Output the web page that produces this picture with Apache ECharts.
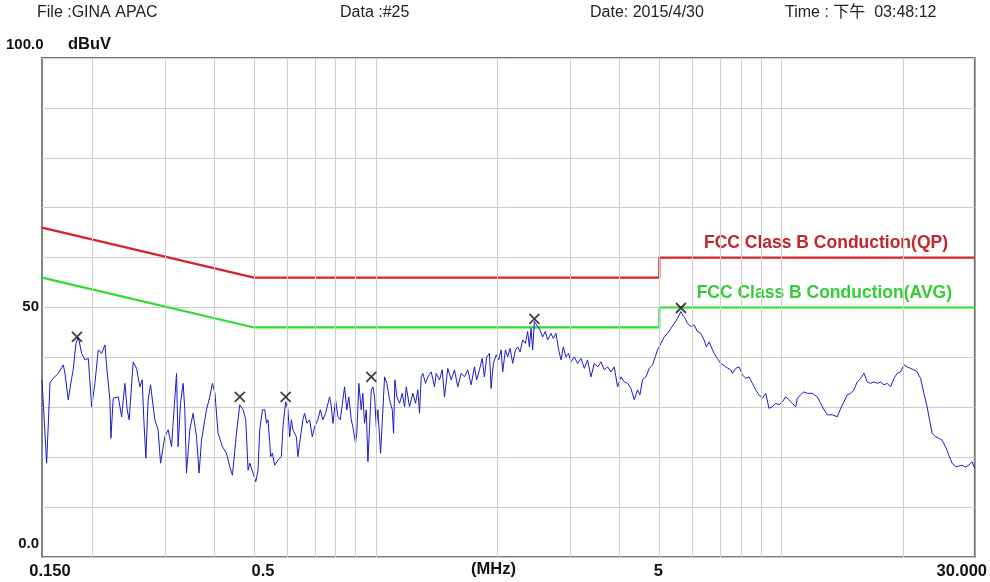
<!DOCTYPE html>
<html>
<head>
<meta charset="utf-8">
<script src="https://cdn.jsdelivr.net/npm/echarts@6/dist/echarts.min.js"></script>
<style>
html,body{margin:0;padding:0;background:#fff;}
#chart{width:990px;height:582px;}
</style>
</head>
<body>
<div id="chart"></div>
<script>
// ---------- data ----------
const traceFreq = [
0.1500,0.1540,0.1570,0.1599,0.1645,0.1693,0.1709,0.1741,0.1775,0.1791,0.1819,0.1843,0.1879,0.1915,0.1951,0.1989,
0.2026,0.2065,0.2105,0.2145,0.2166,0.2206,0.2219,0.2248,0.2313,0.2358,0.2402,0.2434,0.2461,0.2518,0.2567,0.2615,
0.2650,0.2675,0.2706,0.2741,0.2779,0.2847,0.2901,0.2941,0.3014,0.3071,0.3131,0.3159,0.3221,0.3250,0.3294,0.3344,
0.3376,0.3408,0.3473,0.3539,0.3608,0.3661,0.3712,0.3782,0.3818,0.3890,0.3950,0.4006,0.4078,0.4181,0.4277,0.4358,
0.4425,0.4527,0.4613,0.4700,0.4773,0.4836,
0.4883,0.4975,0.5051,0.5117,0.5167,0.5247,0.5316,0.5368,0.5416,0.5467,0.5498,0.5551,0.5624,0.5731,0.5842,0.5896,
0.5986,0.6065,0.6124,0.6183,0.6239,0.6361,0.6419,0.6480,0.6602,0.6667,0.6754,0.6859,0.6964,0.7056,0.7189,0.7287,
0.7396,0.7512,0.7684,0.7759,0.7830,0.7950,0.8054,0.8165,0.8366,0.8474,0.8571,0.8689,0.8768,0.8904,0.8969,0.9072,
0.9196,0.9280,0.9369,0.9464,0.9551,0.9643,0.9737,0.9826,0.9921,1.0017,1.0108,1.0264,1.0399,1.0500,1.0638,1.0802,
1.0969,1.1050,1.1132,1.1259,1.1433,1.1609,1.1762,1.1876,1.2100,1.2328,1.2519,1.2683,1.2806,1.2930,1.3048,1.3250,
1.3423,1.3685,1.3943,1.4079,1.4344,1.4566,1.4757,1.5034,1.5328,1.5618,1.5913,1.6224,1.6529,1.6842,1.7170,
1.7494,1.7720,1.800,1.828,1.851,1.876,1.905,1.923,1.948,1.979,2.008,2.035,2.054,2.086,2.113,2.142,2.174,2.208,
2.237,2.267,2.301,2.336,2.367,2.390,2.413,2.435,2.459,2.482,2.505,2.539,2.577,2.617,2.651,2.703,2.738,2.780,
2.822,2.861,2.898,2.943,2.987,3.027,3.085,3.143,3.204,3.265,3.326,3.391,3.455,3.521,3.589,3.657,3.726,3.799,
3.870,3.944,4.020,4.096,4.174,4.255,4.336,4.418,4.479,4.545,4.634,4.721,4.811,4.885,4.949,5.046,5.141,5.238,
5.340,5.441,5.544,5.652,5.703,5.791,5.868,5.980,6.092,6.208,6.329,6.448,6.533,6.634,
6.824,6.952,7.088,7.292,7.501,7.571,7.719,7.865,8.014,8.170,8.324,8.482,8.645,8.808,8.975,9.149,9.322,9.499,
9.687,9.870,10.06,10.25,10.45,10.64,10.85,10.95,11.16,11.37,11.59,11.92,12.27,12.50,12.74,12.98,13.36,13.74,
14.01,14.27,14.54,14.82,15.10,15.39,15.69,15.99,16.29,16.60,16.92,17.24,17.57,17.91,18.24,18.60,18.95,19.31,
19.68,20.06,20.44,20.83,21.23,21.63,22.05,22.47,22.89,23.20,23.55,24.00,24.46,24.92,25.41,25.89,26.38,26.89,
27.40,27.92,28.46,29.00,29.54,30.00
];
const traceLevel = [
35.5,18.8,34.9,35.8,36.8,38.5,36.8,31.5,35.8,37.5,42.8,44.1,40.8,39.5,39.8,30.1,
34.8,41.5,40.8,42.5,38.1,31.5,23.8,31.8,32.1,28.1,34.8,29.5,27.5,39.1,37.8,34.1,
35.5,27.5,19.8,31.5,34.5,27.5,25.5,18.8,24.1,25.5,22.1,26.8,36.8,22.1,30.8,34.8,
29.5,16.8,25.5,28.8,24.1,16.8,23.4,27.5,29.5,32.1,34.8,32.8,24.8,22.1,20.8,18.1,
16.4,24.8,30.5,29.5,27.5,17.4,
18.8,16.8,15.1,17.4,25.5,29.5,29.5,26.8,27.5,23.1,20.1,20.8,18.4,19.4,20.1,26.1,
31.1,29.5,24.1,27.5,25.5,24.1,20.1,22.8,27.5,28.8,26.8,27.5,24.1,26.1,27.5,29.5,
27.5,28.8,32.1,30.1,26.8,31.5,28.1,27.5,34.1,29.5,32.1,27.5,26.1,22.8,24.8,34.8,
29.5,32.8,26.8,29.5,19.1,26.1,33.5,34.1,32.1,26.1,29.5,20.8,29.5,36.1,34.8,31.5,
29.5,24.8,35.5,32.1,30.8,32.8,30.1,34.1,30.1,32.8,30.8,33.5,28.8,36.1,36.8,34.8,
36.1,37.1,34.1,36.8,35.5,37.5,32.1,37.8,35.5,37.5,34.1,36.8,36.1,37.5,34.5,
38.1,35.5,37.5,39.8,36.1,40.1,40.8,33.8,38.8,40.5,39.5,41.5,37.1,41.5,40.1,41.8,38.8,41.5,
42.1,41.1,43.5,42.8,45.2,42.1,45.8,41.5,47.2,47.5,46.2,45.5,44.1,45.2,43.5,44.8,43.8,44.8,
41.5,39.5,42.1,40.1,40.8,39.1,40.1,38.8,39.8,37.8,39.5,36.1,38.8,38.1,39.1,37.5,38.1,37.1,
38.1,34.1,36.1,35.1,34.8,33.8,31.5,33.5,32.5,35.5,36.1,37.8,38.5,40.1,41.5,42.8,44.1,44.8,
45.8,46.8,47.8,49.2,48.5,47.8,46.8,46.2,46.5,45.2,44.8,43.5,42.1,43.1,
40.8,39.8,38.8,38.1,37.5,36.8,37.8,38.1,36.5,35.8,36.1,34.8,33.5,32.5,31.8,32.8,29.8,30.1,
30.8,30.5,31.1,32.1,31.5,30.8,30.1,31.8,32.5,33.1,32.8,32.8,32.1,30.8,29.5,28.5,28.5,28.1,
29.8,31.1,32.5,32.8,33.5,35.1,35.8,36.8,35.1,34.8,35.1,34.8,35.1,34.5,34.8,34.1,35.8,36.8,
37.1,38.5,38.1,37.8,37.5,37.1,35.8,32.8,30.1,27.5,24.8,24.1,23.8,23.4,22.1,20.4,18.8,18.1,
18.2,18.4,18.0,18.4,19.1,17.8
];
const markerFreq  = [0.1829, 0.4613, 0.5986, 0.9737, 2.459, 5.652];
const markerLevel = [44.1, 32.1, 32.1, 36.1, 47.7, 49.9];

const qpFreq   = [0.15, 0.5, 5, 5, 30];
const qpLevel  = [66, 56, 56, 60, 60];
const avgFreq  = [0.15, 0.5, 5, 5, 30];
const avgLevel = [56, 46, 46, 50, 50];

const gridFreqs = [0.2,0.3,0.4,0.5,0.6,0.7,0.8,0.9,1,2,3,4,5,6,7,8,9,10,20];
const xTickFreqs  = [0.15, 0.5, 5, 30];
const xTickLabels = ['0.150', '0.5', '5', '30.000'];
const xTickStyles = ['a', 'b', 'c', 'd'];
const yTickValues = [0, 50];
const yTickLabels = ['0.0', '50'];
const yTickStyles = ['z', 'f'];
const yTopLabel = '100.0';
const yUnit = 'dBuV';
const xUnit = '(MHz)';
const qpName  = 'FCC Class B Conduction(QP)';
const avgName = 'FCC Class B Conduction(AVG)';
const headerFile = 'File :GINA APAC';
const headerData = 'Data :#25';
const headerDate = 'Date: 2015/4/30';
const headerTime = 'Time : 下午  03:48:12';

// ---------- chart ----------
const lg = v => Math.log10(v);
const pairs = (fs, ls) => fs.map((f, i) => [lg(f), ls[i]]);
const FONT = '"Liberation Sans", Arial, "Noto Sans CJK TC", sans-serif';
const xl = {fontFamily: FONT, fontWeight: 'bold', fontSize: 16.5, color: '#111'};
const yl = {fontFamily: FONT, fontWeight: 'bold', fontSize: 15, color: '#111'};

const chart = echarts.init(document.getElementById('chart'), null, {renderer: 'canvas'});
const option = {
  animation: false,
  backgroundColor: '#ffffff',
  grid: {left: 42, right: 14, top: 58, bottom: 25, show: true, borderColor: '#767676', borderWidth: 1.8, backgroundColor: '#ffffff'},
  xAxis: {
    type: 'value', min: lg(0.15), max: lg(30),
    axisLine: {show: false}, axisTick: {show: false}, splitLine: {show: false},
    axisLabel: {
      customValues: xTickFreqs.map(lg),
      margin: 6,
      formatter: v => {
        const i = xTickFreqs.findIndex(f => Math.abs(lg(f) - v) < 1e-6);
        return i < 0 ? '' : '{' + xTickStyles[i] + '|' + xTickLabels[i] + '}';
      },
      rich: {
        a: Object.assign({padding: [0, 0, 0, 16]}, xl),
        b: Object.assign({padding: [0, 0, 0, 18]}, xl),
        c: Object.assign({padding: [0, 2, 0, 0]}, xl),
        d: Object.assign({padding: [0, 26, 0, 0]}, xl)
      }
    }
  },
  yAxis: {
    type: 'value', min: 0, max: 100, interval: 10,
    axisLine: {show: false}, axisTick: {show: false},
    splitLine: {show: true, lineStyle: {color: '#cdcdcd', width: 1}},
    axisLabel: {
      customValues: yTickValues,
      margin: 3,
      formatter: v => {
        const i = yTickValues.indexOf(v);
        return i < 0 ? '' : '{' + yTickStyles[i] + '|' + yTickLabels[i] + '}';
      },
      rich: {
        z: Object.assign({padding: [0, 0, 26, 0]}, yl),
        f: Object.assign({padding: [0, 0, 2, 0]}, yl)
      }
    }
  },
  series: [
    {
      type: 'line', name: 'grid', data: [], silent: true, z: 1,
      markLine: {
        silent: true, symbol: ['none', 'none'], animation: false,
        label: {show: false},
        lineStyle: {color: '#cdcdcd', type: 'solid', width: 1},
        data: gridFreqs.map(f => ({xAxis: lg(f)}))
      }
    },
    {
      type: 'line', name: qpName, data: pairs(qpFreq, qpLevel), showSymbol: false, z: 3,
      lineStyle: {color: '#d6222a', width: 2.2}
    },
    {
      type: 'line', name: avgName, data: pairs(avgFreq, avgLevel), showSymbol: false, z: 3,
      lineStyle: {color: '#2edc2e', width: 2.2}
    },
    {
      type: 'line', name: 'trace', data: pairs(traceFreq, traceLevel), showSymbol: false, z: 4,
      lineStyle: {color: '#1c1cc8', width: 1}
    },
    {
      type: 'scatter', name: 'peaks', data: pairs(markerFreq, markerLevel), z: 5,
      symbol: 'path://M0 0L10 10M10 0L0 10', symbolSize: 10,
      itemStyle: {color: 'rgba(0,0,0,0)', borderColor: '#111', borderWidth: 1.8}
    }
  ],
  graphic: [
    {type: 'text', left: 37, top: 5, style: {text: headerFile, font: '16px ' + FONT, fill: '#222'}},
    {type: 'text', left: 340, top: 5, style: {text: headerData, font: '16px ' + FONT, fill: '#222'}},
    {type: 'text', left: 590, top: 5, style: {text: headerDate, font: '16px ' + FONT, fill: '#222'}},
    {type: 'text', left: 785, top: 5, style: {text: headerTime, font: '16px ' + FONT, fill: '#222'}},
    {type: 'text', left: 6, top: 37, style: {text: yTopLabel, font: 'bold 15px ' + FONT, fill: '#111'}},
    {type: 'text', left: 68, top: 36, style: {text: yUnit, font: 'bold 16.5px ' + FONT, fill: '#111'}},
    {type: 'text', left: 471, top: 561, style: {text: xUnit, font: 'bold 16.5px ' + FONT, fill: '#111'}},
    {type: 'text', right: 42, top: 234, style: {text: qpName, font: 'bold 17.5px ' + FONT, fill: '#c2262c'}},
    {type: 'text', right: 38, top: 284, style: {text: avgName, font: 'bold 17.5px ' + FONT, fill: '#35cc35'}}
  ]
};
chart.setOption(option);
</script>
</body>
</html>
